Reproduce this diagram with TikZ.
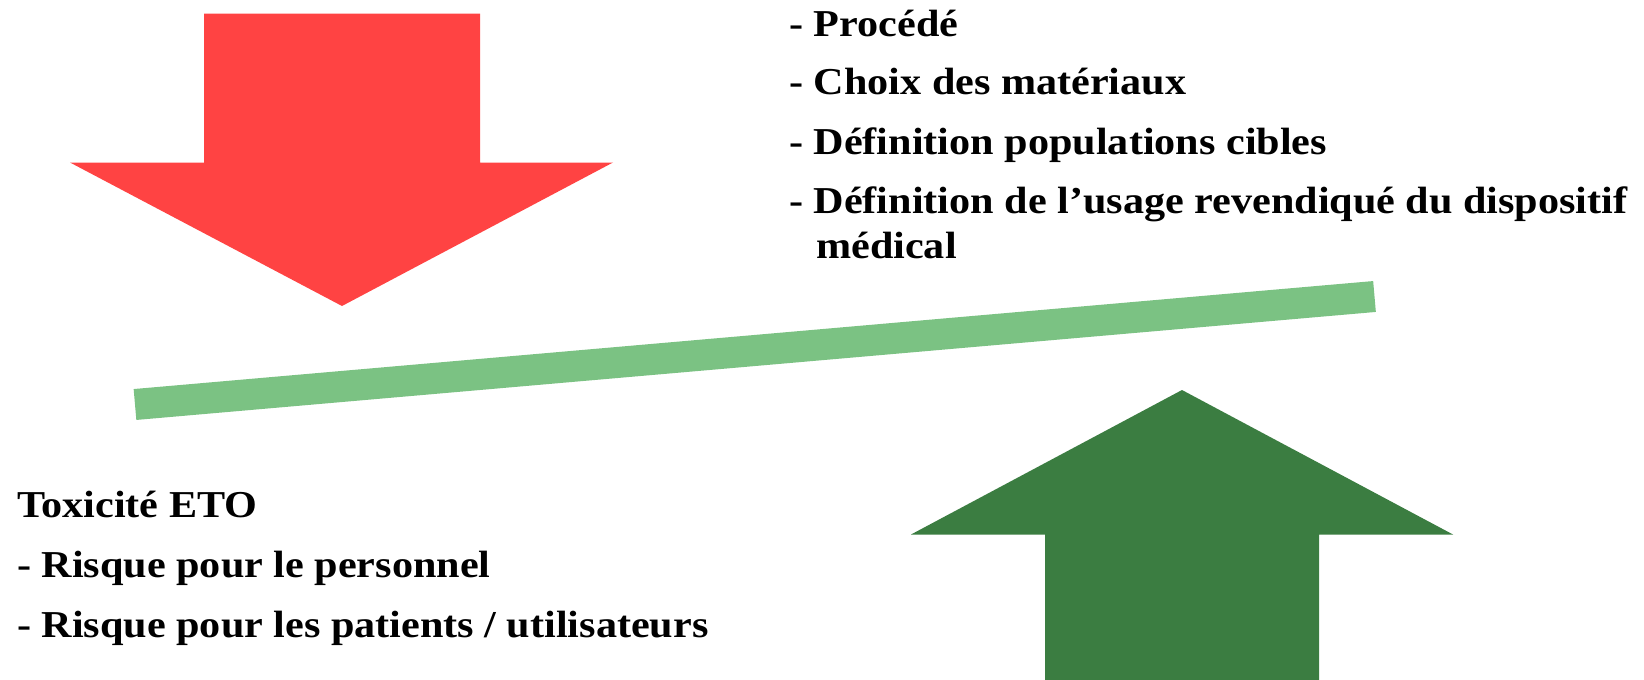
\documentclass[tikz,border=0pt]{standalone}
\usepackage{fontspec}
\setmainfont{Liberation Serif}[FakeStretch=1.11]
\definecolor{arrred}{HTML}{FF4343}
\definecolor{barlight}{HTML}{7BC283}
\definecolor{arrgreen}{HTML}{3B7D41}
\begin{document}
\begin{tikzpicture}[x=1pt,y=-1pt,
  txt/.style={anchor=base west,inner sep=0pt,font=\fontsize{38}{45}\selectfont\bfseries}]
\useasboundingbox (0,0) rectangle (1644,680);
% red arrow (down)
\fill[arrred] (204,13.5) -- (480,13.5) -- (480,162.5) -- (613,162.5) -- (342,306) -- (70,162.5) -- (204,162.5) -- cycle;
% green arrow (up)
\fill[arrgreen] (1045,680) -- (1319,680) -- (1319,534.5) -- (1453,534.5) -- (1182,390) -- (911,534.5) -- (1045,534.5) -- cycle;
% lever bar
\draw[barlight,line width=31pt] (135,404.5) -- (1374.5,296.5);
% right text
\node[txt] (t1) at (789,36) {- Procédé};
\node[txt] (t2) at (789,94.5) {- Choix des matériaux};
\node[txt] (t3) at (789,154) {- Définition populations cibles};
\node[txt] (t4) at (789,213) {- Définition de l’usage revendiqué du dispositif};
\node[txt] (t5) at (816,258) {médical};
% left text
\node[txt] (l1) at (17,517) {Toxicité ETO};
\node[txt] (l2) at (17,577) {- Risque pour le personnel};
\node[txt] (l3) at (17,637) {- Risque pour les patients / utilisateurs};
\end{tikzpicture}
\end{document}
